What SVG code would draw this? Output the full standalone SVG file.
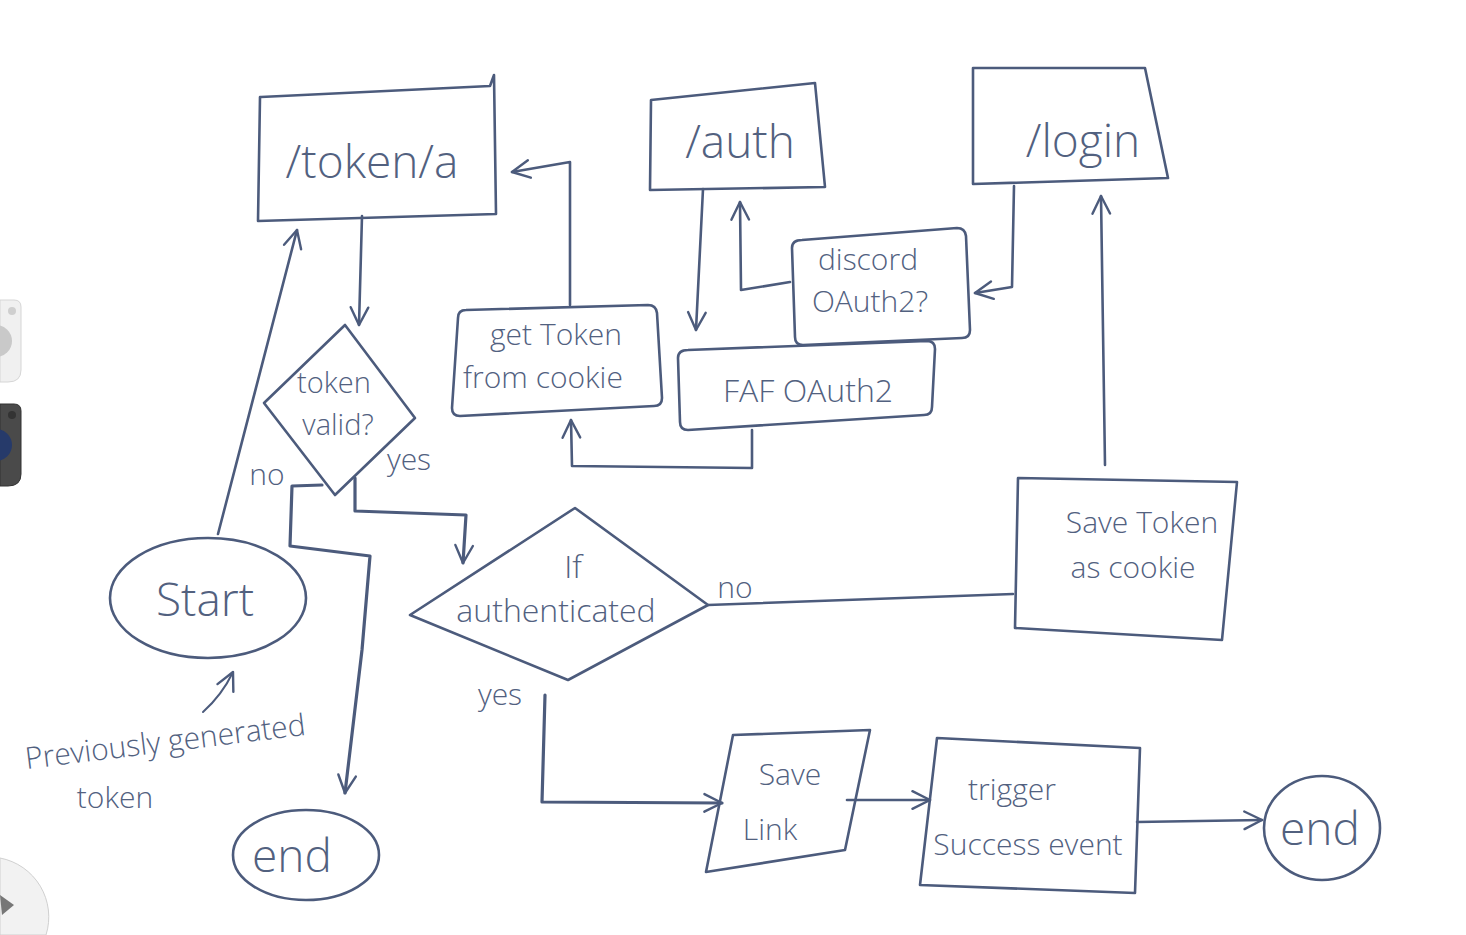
<svg xmlns="http://www.w3.org/2000/svg" width="1466" height="935" viewBox="0 0 1466 935">
<style>
.s{fill:none;stroke:#4c5b7c;stroke-width:2.6;stroke-linecap:round;stroke-linejoin:round}
.t{stroke-width:3.2}
.n{fill:none;stroke:#4c5b7c;stroke-width:2;stroke-linecap:round;stroke-linejoin:round}
text{font-family:"Open Sans","Liberation Sans",sans-serif;fill:#52617f;font-weight:300;text-anchor:middle}
.b{font-size:46px}
.m{font-size:32px}
.d{font-size:29px}
.l{font-size:30px}
</style>
<defs>
<marker id="ah" viewBox="0 0 20 20" refX="18" refY="10" markerWidth="22" markerHeight="22" markerUnits="userSpaceOnUse" orient="auto">
<path d="M2,2 L18,10 L2,18" fill="none" stroke="#4c5b7c" stroke-width="2.2" stroke-linecap="round" stroke-linejoin="round"/>
</marker>
</defs>
<rect width="1466" height="935" fill="#ffffff"/>

<!-- screen widgets at left edge -->
<g id="widgets">
<path d="M0,300 L14,300 Q21,300 21,307 L21,370 Q21,382 8,382 L0,382 Z" fill="#f0f0f0" stroke="#d6d6d6"/>
<circle cx="-4" cy="341" r="16" fill="#c9c9c9"/>
<circle cx="12" cy="311" r="4" fill="#cfcfcf"/>
<path d="M0,404 L14,404 Q21,404 21,411 L21,474 Q21,486 8,486 L0,486 Z" fill="#4a4a4a" stroke="#333"/>
<circle cx="-4" cy="445" r="16" fill="#263a6a"/>
<circle cx="12" cy="415" r="4" fill="#333"/>
<path d="M0,858 A60,60 0 0 1 46,935 L0,935 Z" fill="#f2f2f2" stroke="#d0d0d0"/>
<path d="M0,895 L14,905 L2,915 Z" fill="#777"/>
</g>

<g id="connectors">
<path class="s" d="M362,216 L359,325" marker-end="url(#ah)"/>
<path class="s t" d="M322,485 L292,486 L290,546 L370,556 L362,650 L345,793" marker-end="url(#ah)"/>
<path class="s t" d="M355,478 L355,511 L466,515 L463,563" marker-end="url(#ah)"/>
<path class="s" d="M218,534 L297,230" marker-end="url(#ah)"/>
<path class="n" d="M203,712 Q222,695 233,672" marker-end="url(#ah)"/>
<path class="s" d="M570,305 L570,162 L512,172" marker-end="url(#ah)"/>
<path class="s" d="M752,430 L752,468 L572,466 L571,420" marker-end="url(#ah)"/>
<path class="s" d="M703,189 L696,330" marker-end="url(#ah)"/>
<path class="s" d="M790,282 L741,290 L740,202" marker-end="url(#ah)"/>
<path class="s" d="M1014,186 L1012,287 L975,293" marker-end="url(#ah)"/>
<path class="s" d="M1105,465 L1101,196" marker-end="url(#ah)"/>
<path class="s" d="M708,605 L1013,594"/>
<path class="s t" d="M545,695 L542,802 L722,803" marker-end="url(#ah)"/>
<path class="s" d="M847,800 L930,800" marker-end="url(#ah)"/>
<path class="s" d="M1137,822 L1262,820" marker-end="url(#ah)"/>
</g>

<g id="token">
<path class="s" d="M261,97 L490,86 L494,75 M494,75 L496,214 L258,221 L260,97"/>
<text class="b" x="372" y="178">/token/a</text>
</g>

<g id="auth">
<path class="s" d="M651,100 L815,83 L825,187 L650,190 Z"/>
<text class="b" x="740" y="158">/auth</text>
</g>

<g id="login">
<path class="s" d="M973,68 L1145,68 L1168,178 L973,184 Z"/>
<text class="b" x="1083" y="157">/login</text>
</g>

<g id="tokenValid">
<path class="s" d="M345,325 L415,418 L335,495 L264,403 Z"/>
<text class="d" x="334" y="393">token</text>
<text class="d" x="338" y="435">valid?</text>
</g>

<g id="labels">
<text class="l" x="267" y="485">no</text>
<text class="l" x="409" y="470">yes</text>
<text class="l" x="735" y="598">no</text>
<text class="l" x="500" y="705">yes</text>
</g>

<g id="getToken">
<path class="s" d="M466,310 L648,305 Q656,305 657,313 L662,398 Q662,406 654,406 L460,416 Q452,416 452,408 L458,318 Q458,310 466,310 Z"/>
<text class="l" x="556" y="345">get Token</text>
<text class="l" x="543" y="388">from cookie</text>
</g>

<g id="discord">
<path class="s" d="M802,240 L957,228 Q965,228 966,236 L970,330 Q970,338 962,338 L803,345 Q795,345 795,337 L792,248 Q792,240 802,240 Z"/>
<text class="l" x="868" y="270">discord</text>
<text class="l" x="870" y="312">OAuth2?</text>
</g>

<g id="faf">
<path class="s" d="M688,350 L927,341 Q935,341 935,349 L932,407 Q932,415 924,415 L688,430 Q680,430 680,422 L678,358 Q678,350 688,350 Z"/>
<text class="m" x="808" y="402">FAF OAuth2</text>
</g>

<g id="ifAuth">
<path class="s" d="M575,508 L708,605 L568,680 L410,615 Z"/>
<text class="m" x="573" y="578">If</text>
<text class="m" x="556" y="622">authenticated</text>
</g>

<g id="saveToken">
<path class="s" d="M1018,478 L1237,482 L1222,640 L1015,628 Z"/>
<text class="l" x="1142" y="533">Save Token</text>
<text class="l" x="1133" y="578">as cookie</text>
</g>

<g id="start">
<ellipse class="s" cx="208" cy="598" rx="98" ry="60"/>
<text class="b" x="205" y="616">Start</text>
</g>

<g id="prevNote">
<text class="l" transform="rotate(-7 165 740)" x="165" y="752">Previously generated</text>
<text class="l" x="115" y="808">token</text>
</g>

<g id="end1">
<ellipse class="s" cx="306" cy="855" rx="73" ry="45"/>
<text class="b" x="292" y="872">end</text>
</g>

<g id="saveLink">
<path class="s" d="M733,735 L870,730 L845,850 L706,872 Z"/>
<text class="l" x="790" y="785">Save</text>
<text class="l" x="770" y="840">Link</text>
</g>

<g id="trigger">
<path class="s" d="M937,738 L1140,748 L1135,893 L920,885 Z"/>
<text class="l" x="1012" y="800">trigger</text>
<text class="l" x="1028" y="855">Success event</text>
</g>

<g id="end2">
<ellipse class="s" cx="1322" cy="828" rx="58" ry="52"/>
<text class="b" x="1320" y="845">end</text>
</g>
</svg>
